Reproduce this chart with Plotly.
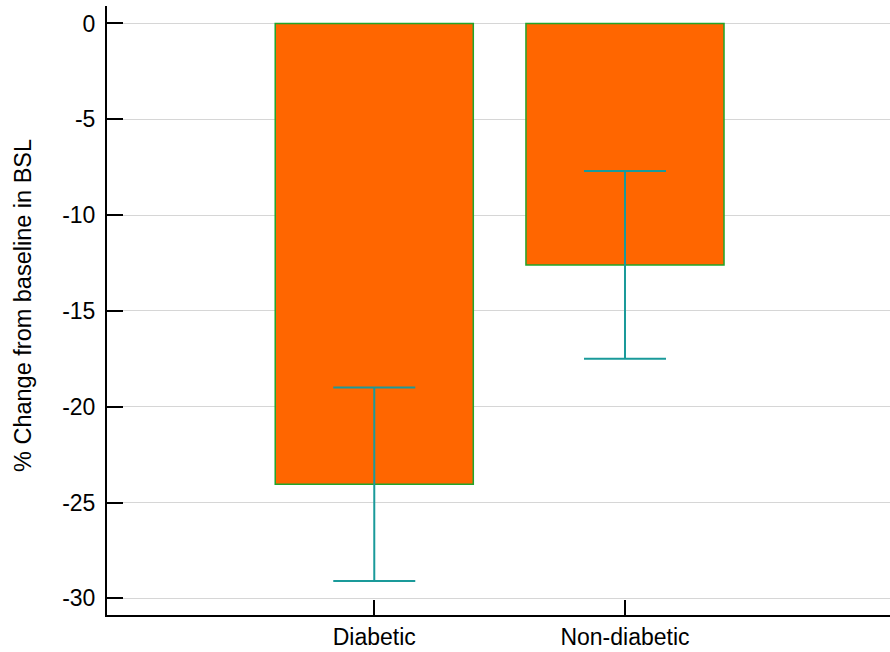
import plotly.graph_objects as go

categories = ["Diabetic", "Non-diabetic"]
pct_change = [-24.05, -12.6]
error = [5.05, 4.9]
y_tick_vals = [0, -5, -10, -15, -20, -25, -30]
y_tick_text = ["0", "-5", "-10", "-15", "-20", "-25", "-30"]
y_title = "% Change from baseline in BSL"

FONT = "Liberation Sans, Arial, sans-serif"

fig = go.Figure()
fig.add_trace(go.Bar(
    x=categories,
    y=pct_change,
    width=0.79,
    marker=dict(color="#FF6600", line=dict(color="#22A52A", width=1.5)),
    error_y=dict(type="data", array=error, visible=True,
                 color="#1A9A9A", thickness=2, width=41),
))

fig.update_layout(
    width=890, height=652,
    margin=dict(l=107, r=0, t=6, b=37),
    plot_bgcolor="white", paper_bgcolor="white",
    showlegend=False,
    font=dict(family=FONT, size=23, color="black"),
)
fig.update_xaxes(
    range=[-1.066, 2.057],
    automargin=False,
    showline=True, linecolor="black", linewidth=2,
    ticks="inside", ticklen=15, tickwidth=2, tickcolor="black",
    showgrid=False, zeroline=False,
    tickfont=dict(family=FONT, size=23),
    ticklabelstandoff=0,
)
fig.update_yaxes(
    range=[-30.87, 0.91],
    automargin=False,
    tickvals=y_tick_vals, ticktext=y_tick_text,
    showline=True, linecolor="black", linewidth=2,
    ticks="inside", ticklen=16, tickwidth=2, tickcolor="black",
    showgrid=True, gridcolor="#D6D6D6", gridwidth=1,
    zeroline=False,
    tickfont=dict(family=FONT, size=23),
    ticklabelstandoff=5,
)
fig.add_annotation(
    text=y_title, textangle=-90,
    xref="paper", yref="paper",
    x=(23 - 107) / 783, y=(615 - 306) / 609,
    xanchor="center", yanchor="middle",
    showarrow=False,
    font=dict(family=FONT, size=23.5, color="black"),
)

fig.write_html(
    "out.html",
    config={"displayModeBar": False},
    post_script="document.body.style.margin='0';document.body.style.padding='0';",
)
